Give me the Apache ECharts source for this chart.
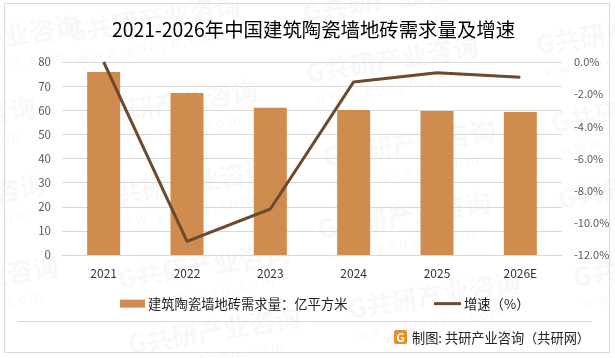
<!DOCTYPE html>
<html>
<head>
<meta charset="utf-8">
<style>
  html, body { margin: 0; padding: 0; background: #fff; }
  #chart { width: 615px; height: 358px; }
</style>
<script src="https://cdn.jsdelivr.net/npm/echarts@6/dist/echarts.min.js"></script>
</head>
<body>
<div id="chart"></div>
<script>
const FONT = '"Noto Sans CJK SC", sans-serif'

const categories = ['2021', '2022', '2023', '2024', '2025', '2026E']
const demand = [75.9, 67.2, 61, 60.1, 59.7, 59.3]
const growth = [0, -11.15, -9.14, -1.24, -0.67, -0.95]
const demandName = '建筑陶瓷墙地砖需求量\uFF1A亿平方米'
const growthName = '增速\uFF08%\uFF09'

// 水印位置 [x, y]
const marks = [
  [70, 45], [-90, 65], [87, 130], [-135, 147], [308, 86], [305, 25], [538, 58],
  [325, 170], [553, 136], [100, 210], [-125, 225], [120, 292], [-112, 306],
  [130, 357], [320, 242], [350, 322], [560, 212], [575, 290]
]

const watermark = []
marks.forEach((p) => {
  watermark.push({
    type: 'text', x: p[0], y: p[1], rotation: 0.16, z: 0, silent: true,
    style: { text: 'G共研产业咨询', font: 'bold 26px ' + FONT, fill: '#f8f8f8', textVerticalAlign: 'bottom' }
  })
  watermark.push({
    type: 'text', x: p[0] + 6, y: p[1] + 6, rotation: 0.16, z: 0, silent: true,
    style: { text: 'w w w . g o n y n . c o m', font: '14px ' + FONT, fill: '#f8f8f8', textVerticalAlign: 'top' }
  })
})

const chart = echarts.init(document.getElementById('chart'))
chart.setOption({
  animation: false,
  textStyle: { fontFamily: FONT },
  title: {
    text: '2021-2026年中国建筑陶瓷墙地砖需求量及增速',
    left: 107,
    top: 15,
    textStyle: { fontFamily: FONT, fontSize: 19.4, fontWeight: 'normal', color: '#000' }
  },
  legend: [
    {
      left: 115,
      top: 292,
      icon: 'rect',
      itemWidth: 25,
      itemHeight: 8,
      textStyle: { fontFamily: FONT, fontSize: 13.3, color: '#222', padding: [0, 0, 0, -2] },
      data: [demandName]
    },
    {
      left: 429,
      top: 292,
      icon: 'rect',
      itemWidth: 27,
      itemHeight: 3,
      textStyle: { fontFamily: FONT, fontSize: 13.3, color: '#222', padding: [0, 0, 0, -2] },
      data: [growthName]
    }
  ],
  grid: { left: 62, right: 53, top: 62, bottom: 103 },
  xAxis: {
    type: 'category',
    data: categories,
    axisTick: { show: false },
    axisLine: { lineStyle: { color: '#d9d9d9' } },
    axisLabel: { fontFamily: FONT, fontSize: 12, color: '#333', margin: 12 }
  },
  yAxis: [
    {
      type: 'value', min: 0, max: 80, interval: 10,
      axisLabel: { fontFamily: FONT, fontSize: 11.5, color: '#595959', margin: 11 },
      axisLine: { show: false },
      splitLine: { lineStyle: { color: '#d9d9d9' } }
    },
    {
      type: 'value', min: -12, max: 0, interval: 2,
      axisLabel: {
        fontFamily: FONT, fontSize: 11, color: '#595959', margin: 12,
        formatter: (v) => v.toFixed(1) + '%'
      },
      axisLine: { show: false },
      splitLine: { show: false }
    }
  ],
  series: [
    {
      name: demandName,
      type: 'bar',
      data: demand,
      barWidth: 33,
      itemStyle: { color: '#d08b4e' }
    },
    {
      name: growthName,
      type: 'line',
      yAxisIndex: 1,
      data: growth,
      symbol: 'none',
      lineStyle: { color: '#6b4a2f', width: 3 },
      itemStyle: { color: '#6b4a2f' }
    }
  ],
  graphic: watermark.concat([
    // 外框
    { type: 'rect', z: 1, silent: true, shape: { x: 4.5, y: 3.5, width: 605, height: 349 },
      style: { fill: 'none', stroke: '#d9d9d9', lineWidth: 1 } },
    // 底部分隔线
    { type: 'line', z: 1, silent: true, shape: { x1: 17, y1: 321.5, x2: 592, y2: 321.5 },
      style: { stroke: '#d9d9d9', lineWidth: 1 } },
    // logo
    { type: 'rect', z: 1, silent: true, shape: { x: 394, y: 330, width: 13, height: 14, r: 2 },
      style: { fill: '#f08a24' } },
    { type: 'text', z: 2, silent: true, x: 400.5, y: 337,
      style: { text: 'G', font: 'bold 12px ' + FONT, fill: '#fff', textAlign: 'center', textVerticalAlign: 'middle' } },
    { type: 'text', z: 2, silent: true, x: 412, y: 338,
      style: { text: '制图: 共研产业咨询\uFF08共研网\uFF09', font: '13.2px ' + FONT, fill: '#222', textVerticalAlign: 'middle' } }
  ])
})
</script>
</body>
</html>
